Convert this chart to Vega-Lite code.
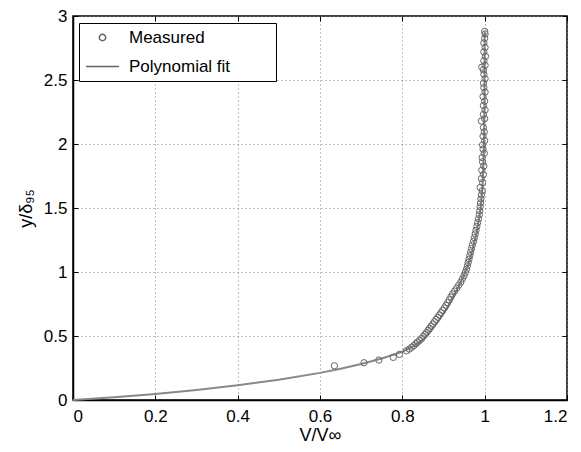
{
  "$schema": "https://vega.github.io/schema/vega-lite/v6.json",
  "width": 494,
  "height": 384,
  "autosize": "none",
  "padding": {"left": 73, "top": 16, "right": 14, "bottom": 52},
  "background": "white",
  "config": {
    "font": "Liberation Sans",
    "view": {"stroke": "black", "strokeWidth": 1.5},
    "axis": {
      "labelFont": "Liberation Sans",
      "titleFont": "Liberation Sans",
      "labelFontSize": 17,
      "titleFontSize": 18,
      "labelColor": "black",
      "titleColor": "black",
      "titleFontWeight": "normal",
      "domainColor": "black",
      "domainWidth": 1.5,
      "tickColor": "black",
      "tickWidth": 1,
      "gridColor": "#808080",
      "gridDash": [1, 3],
      "gridWidth": 1
    }
  },
  "datasets": {
    "fit": [
      {"v": 0, "y": 0}, {"v": 0.1, "y": 0.021}, {"v": 0.2, "y": 0.046}, {"v": 0.3, "y": 0.078},
      {"v": 0.4, "y": 0.115}, {"v": 0.5, "y": 0.158}, {"v": 0.6, "y": 0.212}, {"v": 0.65, "y": 0.244},
      {"v": 0.7, "y": 0.281}, {"v": 0.75, "y": 0.324}, {"v": 0.8, "y": 0.377}, {"v": 0.83, "y": 0.425},
      {"v": 0.85, "y": 0.47}, {"v": 0.87, "y": 0.54}, {"v": 0.89, "y": 0.625}, {"v": 0.91, "y": 0.725},
      {"v": 0.93, "y": 0.845}, {"v": 0.95, "y": 0.975}, {"v": 0.96, "y": 1.06}, {"v": 0.97, "y": 1.17},
      {"v": 0.98, "y": 1.3}, {"v": 0.99, "y": 1.49}, {"v": 0.995, "y": 1.68}, {"v": 0.998, "y": 1.95},
      {"v": 0.9995, "y": 2.3}, {"v": 1.0, "y": 2.88}
    ],
    "meas": [
      {"v": 0.635, "y": 0.267}, {"v": 0.707, "y": 0.291}, {"v": 0.743, "y": 0.312}, {"v": 0.778, "y": 0.333},
      {"v": 0.793, "y": 0.356}, {"v": 0.810, "y": 0.384}, {"v": 0.817, "y": 0.398}, {"v": 0.823, "y": 0.412},
      {"v": 0.828, "y": 0.425}, {"v": 0.833, "y": 0.440}, {"v": 0.837, "y": 0.452}, {"v": 0.842, "y": 0.466},
      {"v": 0.847, "y": 0.481}, {"v": 0.851, "y": 0.497}, {"v": 0.855, "y": 0.512}, {"v": 0.859, "y": 0.528},
      {"v": 0.863, "y": 0.545}, {"v": 0.866, "y": 0.560}, {"v": 0.870, "y": 0.577}, {"v": 0.874, "y": 0.594},
      {"v": 0.878, "y": 0.612}, {"v": 0.882, "y": 0.629}, {"v": 0.886, "y": 0.646}, {"v": 0.890, "y": 0.664},
      {"v": 0.894, "y": 0.682}, {"v": 0.898, "y": 0.700}, {"v": 0.902, "y": 0.719}, {"v": 0.906, "y": 0.739},
      {"v": 0.910, "y": 0.760}, {"v": 0.914, "y": 0.782}, {"v": 0.918, "y": 0.805}, {"v": 0.922, "y": 0.828},
      {"v": 0.927, "y": 0.851}, {"v": 0.932, "y": 0.874}, {"v": 0.937, "y": 0.897}, {"v": 0.942, "y": 0.921},
      {"v": 0.946, "y": 0.946}, {"v": 0.950, "y": 0.971}, {"v": 0.953, "y": 0.996}, {"v": 0.956, "y": 1.022},
      {"v": 0.958, "y": 1.048}, {"v": 0.960, "y": 1.074}, {"v": 0.962, "y": 1.101}, {"v": 0.964, "y": 1.128},
      {"v": 0.966, "y": 1.155}, {"v": 0.968, "y": 1.183}, {"v": 0.970, "y": 1.211}, {"v": 0.973, "y": 1.240},
      {"v": 0.975, "y": 1.268}, {"v": 0.977, "y": 1.297}, {"v": 0.979, "y": 1.326}, {"v": 0.981, "y": 1.356},
      {"v": 0.983, "y": 1.386}, {"v": 0.985, "y": 1.416}, {"v": 0.987, "y": 1.447}, {"v": 0.988, "y": 1.478},
      {"v": 0.989, "y": 1.509}, {"v": 0.990, "y": 1.540}, {"v": 0.991, "y": 1.571}, {"v": 0.992, "y": 1.602},
      {"v": 0.994, "y": 1.634}, {"v": 0.989, "y": 1.660}, {"v": 0.995, "y": 1.698}, {"v": 0.992, "y": 1.730},
      {"v": 0.997, "y": 1.762}, {"v": 0.993, "y": 1.795}, {"v": 0.998, "y": 1.828}, {"v": 0.995, "y": 1.861},
      {"v": 0.994, "y": 1.894}, {"v": 0.999, "y": 1.927}, {"v": 0.996, "y": 1.960}, {"v": 0.995, "y": 1.993},
      {"v": 1.000, "y": 2.027}, {"v": 0.996, "y": 2.061}, {"v": 0.999, "y": 2.095}, {"v": 0.997, "y": 2.129},
      {"v": 0.992, "y": 2.180}, {"v": 1.000, "y": 2.197}, {"v": 0.997, "y": 2.231}, {"v": 1.001, "y": 2.266},
      {"v": 0.997, "y": 2.300}, {"v": 1.000, "y": 2.335}, {"v": 0.996, "y": 2.370}, {"v": 1.001, "y": 2.405},
      {"v": 0.998, "y": 2.440}, {"v": 0.997, "y": 2.475}, {"v": 1.001, "y": 2.510}, {"v": 0.998, "y": 2.545},
      {"v": 0.997, "y": 2.580}, {"v": 0.993, "y": 2.600}, {"v": 1.001, "y": 2.615}, {"v": 0.998, "y": 2.650},
      {"v": 1.002, "y": 2.685}, {"v": 0.998, "y": 2.720}, {"v": 1.001, "y": 2.755}, {"v": 0.998, "y": 2.790},
      {"v": 1.000, "y": 2.825}, {"v": 1.001, "y": 2.860}, {"v": 1.000, "y": 2.880}
    ]
  },
  "resolve": {"axis": {"x": "independent", "y": "independent"}},
  "layer": [
    {
      "data": {"name": "fit"},
      "mark": {"type": "line", "color": "#888888", "strokeWidth": 2},
      "encoding": {
        "x": {
          "field": "v", "type": "quantitative",
          "scale": {"domain": [0, 1.2], "nice": false, "zero": false},
          "axis": {
            "values": [0, 0.2, 0.4, 0.6, 0.8, 1, 1.2], "format": "~g",
            "title": "V/V∞", "titlePadding": 2, "labelPadding": 13, "tickSize": -5, "grid": true
          }
        },
        "y": {
          "field": "y", "type": "quantitative",
          "scale": {"domain": [0, 3], "nice": false, "zero": false},
          "axis": {
            "values": [0, 0.5, 1, 1.5, 2, 2.5, 3], "format": "~g",
            "title": "y/δ₉₅", "titlePadding": 8, "labelPadding": 11, "tickSize": -5, "grid": true
          }
        },
        "order": {"field": "y", "type": "quantitative"}
      }
    },
    {
      "data": {"name": "meas"},
      "transform": [{"calculate": "'Measured'", "as": "series"}],
      "mark": {"type": "point", "filled": false, "color": "#666666", "strokeWidth": 1, "opacity": 1},
      "encoding": {
        "x": {"field": "v", "type": "quantitative", "axis": {"orient": "top", "labels": false, "title": null, "grid": false, "domain": false, "values": [0, 0.2, 0.4, 0.6, 0.8, 1, 1.2], "tickSize": -5}},
        "y": {"field": "y", "type": "quantitative", "axis": {"orient": "right", "labels": false, "title": null, "grid": false, "domain": false, "values": [0, 0.5, 1, 1.5, 2, 2.5, 3], "tickSize": -5}},
        "shape": {
          "field": "series", "type": "nominal",
          "scale": {"domain": ["Measured", "Polynomial fit"], "range": ["circle", "stroke"]},
          "legend": {
            "title": ".", "titleOrient": "right", "titleColor": "white", "titlePadding": 37, "titleFontSize": 10,
            "orient": "none", "legendX": 6, "legendY": 7,
            "strokeColor": "black", "fillColor": "white", "padding": 6,
            "labelFont": "Liberation Sans", "labelFontSize": 17, "labelColor": "black",
            "symbolStrokeColor": "#808080", "symbolStrokeWidth": 1.5, "rowPadding": 3, "labelOffset": 9
          }
        },
        "size": {
          "field": "series", "type": "nominal",
          "scale": {"domain": ["Measured", "Polynomial fit"], "range": [40, 1100]}
        }
      }
    }
  ]
}
